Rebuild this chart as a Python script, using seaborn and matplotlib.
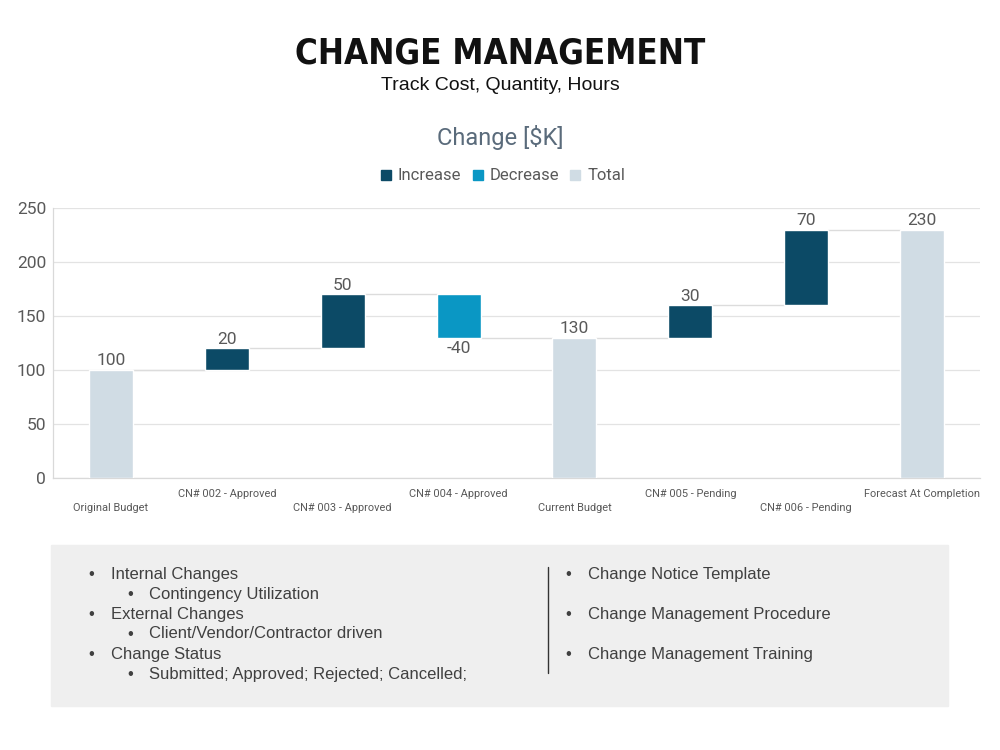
import numpy as np
import pandas as pd
import matplotlib
matplotlib.use("Agg")
import matplotlib.pyplot as plt
from matplotlib.patches import Rectangle
from matplotlib.lines import Line2D
from matplotlib import font_manager
import seaborn as sns

# ===== data =====
categories = ["Original Budget", "CN# 002 - Approved", "CN# 003 - Approved",
              "CN# 004 - Approved", "Current Budget", "CN# 005 - Pending",
              "CN# 006 - Pending", "Forecast At Completion"]
changes = [100, 20, 50, -40, 130, 30, 70, 230]
kinds = ["Total", "Increase", "Increase", "Decrease", "Total",
         "Increase", "Increase", "Total"]

left_notes = [("Internal Changes", 0), ("Contingency Utilization", 1),
              ("External Changes", 0), ("Client/Vendor/Contractor driven", 1),
              ("Change Status", 0), ("Submitted; Approved; Rejected; Cancelled;", 1)]
right_notes = ["Change Notice Template", "Change Management Procedure",
               "Change Management Training"]

colors = {"Increase": "#0c4a66", "Decrease": "#0a97c4", "Total": "#d0dce4"}

# ===== waterfall geometry =====
bottoms, tops = [], []
level = 0
for v, k in zip(changes, kinds):
    if k == "Total":
        bottoms.append(0)
        tops.append(v)
        level = v
    else:
        new = level + v
        bottoms.append(min(level, new))
        tops.append(max(level, new))
        level = new

df = pd.DataFrame({"category": categories, "height": np.array(tops) - np.array(bottoms),
                   "bottom": bottoms, "kind": kinds})

sns.set_theme(style="white")
plt.rcParams["font.family"] = ["Roboto", "DejaVu Sans"]

fig = plt.figure(figsize=(10, 7.5), dpi=100)
ax = fig.add_axes([0.053, 0.3627, 0.927, 0.36])

sns.barplot(data=df, x="category", y="height", hue="category",
            palette=[colors[k] for k in kinds], width=0.38, legend=False,
            saturation=1, ax=ax, zorder=3)
for p, b in zip(ax.patches, bottoms):
    p.set_y(b)

# connectors (running level after each bar)
for i in range(len(categories) - 1):
    lvl = bottoms[i] if kinds[i] == "Decrease" else tops[i]
    ax.plot([i + 0.19, i + 1 - 0.19], [lvl, lvl], color="#dcdcdc", lw=1, zorder=2)

# value labels
for i, (v, k) in enumerate(zip(changes, kinds)):
    if k == "Decrease":
        ax.text(i, bottoms[i] - 3, f"{v}", ha="center", va="top", fontsize=12.5, color="#595959")
    else:
        ax.text(i, tops[i] + 1.5, f"{v}", ha="center", va="bottom", fontsize=12.5, color="#595959")

ax.set_ylim(0, 250)
ax.set_xlim(-0.5, len(categories) - 0.5)
ax.set_yticks(range(0, 251, 50))
ax.yaxis.grid(True, color="#e3e3e3", lw=0.9, zorder=0)
ax.set_axisbelow(True)
ax.tick_params(axis="y", labelsize=12.5, labelcolor="#595959", length=0, pad=5)
ax.tick_params(axis="x", labelsize=7.9, labelcolor="#595959", length=0)
ax.set_xlabel("")
ax.set_ylabel("")
for i, t in enumerate(ax.xaxis.get_major_ticks()):
    t.set_pad(18 if i % 2 == 0 else 8)
for s in ["top", "right"]:
    ax.spines[s].set_visible(False)
for s in ["left", "bottom"]:
    ax.spines[s].set_color("#d9d9d9")
    ax.spines[s].set_linewidth(0.9)

# titles
title_font = font_manager.FontProperties(family="DejaVu Sans", weight="bold",
                                         stretch="condensed", size=25)
fig.text(0.5, 1 - 53 / 750, "CHANGE MANAGEMENT", ha="center", va="center",
         fontproperties=title_font, color="#111111")
fig.text(0.5, 1 - 86 / 750, "Track Cost, Quantity, Hours", ha="center", va="center",
         fontsize=14, color="#111111", family=["Liberation Sans", "DejaVu Sans"])
fig.text(0.5, 1 - 137 / 750, "Change [$K]", ha="center", va="center",
         fontsize=17, color="#5a6b7b")

handles = [Line2D([], [], marker="s", ls="none", markersize=7, color=colors[k])
           for k in ["Increase", "Decrease", "Total"]]
fig.legend(handles, ["Increase", "Decrease", "Total"], loc="center",
           bbox_to_anchor=(0.502, 1 - 176 / 750), ncol=3, frameon=False,
           fontsize=12, labelcolor="#595959", handlelength=0.8,
           handletextpad=0.3, columnspacing=0.6)

# notes box
fig.patches.append(Rectangle((51 / 1000, 1 - 706 / 750), 897 / 1000, 161 / 750,
                             transform=fig.transFigure, color="#efefef", zorder=0))
note_font = dict(fontsize=12, color="#404040", va="center",
                 family=["Liberation Sans", "DejaVu Sans"])
for r, (txt, lvl) in enumerate(left_notes):
    y = 1 - (574 + 20 * r) / 750
    bx = 88 if lvl == 0 else 127
    tx = 111 if lvl == 0 else 149
    fig.text(bx / 1000, y, "\u2022", **note_font)
    fig.text(tx / 1000, y, txt, **note_font)
for r, txt in enumerate(right_notes):
    y = 1 - (574 + 40 * r) / 750
    fig.text(565 / 1000, y, "\u2022", **note_font)
    fig.text(588 / 1000, y, txt, **note_font)
fig.add_artist(Line2D([548 / 1000, 548 / 1000], [1 - 567 / 750, 1 - 673 / 750],
                      color="#333333", lw=1, transform=fig.transFigure))

fig.savefig("out.png", dpi=100)
